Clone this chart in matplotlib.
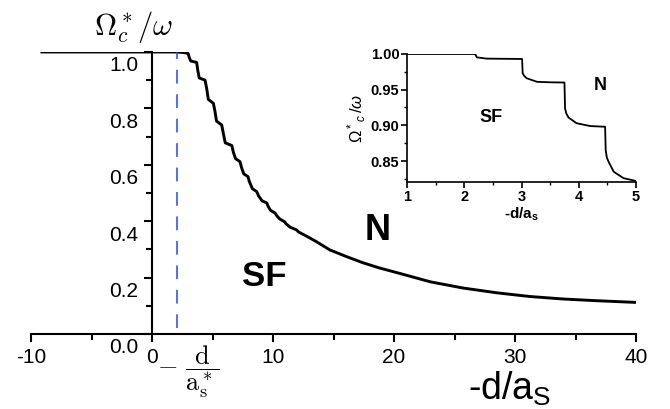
import matplotlib
matplotlib.use('Agg')
import matplotlib.pyplot as plt
from matplotlib.ticker import MultipleLocator, FixedLocator
from matplotlib.transforms import ScaledTranslation

plt.rcParams['font.family'] = ['Liberation Sans', 'DejaVu Sans']
plt.rcParams['axes.unicode_minus'] = False
plt.rcParams['mathtext.fontset'] = 'custom'
plt.rcParams['mathtext.rm'] = 'Liberation Sans'
plt.rcParams['mathtext.it'] = 'Liberation Sans:italic'
plt.rcParams['mathtext.bf'] = 'Liberation Sans:bold'

# main curve
main_x = [-9.1, 2.0, 2.6, 2.98, 3.08, 3.2, 3.69, 3.78, 3.9, 4.38, 4.52, 4.65, 5.07, 5.2,
          5.33, 5.76, 5.9, 6.05, 6.6, 6.72, 6.9, 7.27, 7.4, 7.58, 7.93, 8.05, 8.3, 8.65,
          8.8, 9.1, 9.48, 9.6, 9.8, 10.17, 10.3, 10.55, 10.95, 11.1, 11.4, 11.95, 12.1,
          12.5, 13.06, 13.6, 14.7, 16.1, 17.4, 18.8, 20.2, 23.0, 25.7, 28.5, 31.2, 34.0,
          36.75, 40.0]
main_y = [1.0, 1.0, 0.998, 0.995, 0.98, 0.968, 0.963, 0.935, 0.908, 0.900, 0.87, 0.832,
          0.818, 0.79, 0.755, 0.741, 0.71, 0.678, 0.668, 0.645, 0.622, 0.611, 0.59, 0.568,
          0.558, 0.54, 0.515, 0.505, 0.49, 0.472, 0.465, 0.452, 0.438, 0.429, 0.42, 0.408,
          0.398, 0.39, 0.379, 0.369, 0.362, 0.353, 0.340, 0.327, 0.298, 0.274, 0.253,
          0.234, 0.218, 0.185, 0.163, 0.146, 0.133, 0.124, 0.118, 0.112]
d_star = 2.07

# inset curve
ins_x = [1.0, 2.19, 2.22, 2.39, 3.01, 3.02, 3.05, 3.09, 3.27, 3.5, 3.75, 3.76, 3.78, 3.82,
         3.96, 4.2, 4.46, 4.47, 4.49, 4.52, 4.61, 4.78, 5.0]
ins_y = [1.0, 1.0, 0.9953, 0.9935, 0.993, 0.973, 0.969, 0.966, 0.961, 0.9603, 0.960, 0.924,
         0.917, 0.911, 0.903, 0.899, 0.898, 0.865, 0.855, 0.849, 0.835, 0.826, 0.822]

fig = plt.figure(figsize=(6.7, 4.09), dpi=100)
ax = fig.add_axes([0.0463, 0.1834, 0.903, 0.6895])
ax.plot(main_x, main_y, color='black', lw=2.1, solid_joinstyle='round')
ax.plot([d_star, d_star], [0.02, 1.0], color='#2244ff', lw=1.1, dashes=(9, 7))
ax.set_xlim(-10, 40)
ax.set_ylim(0, 1.0)
ax.spines['top'].set_visible(False)
ax.spines['right'].set_visible(False)
ax.spines['left'].set_position(('data', 0))
for s in ['left', 'bottom']:
    ax.spines[s].set_linewidth(1.5)
ax.xaxis.set_major_locator(MultipleLocator(10))
ax.xaxis.set_minor_locator(MultipleLocator(5))
ax.yaxis.set_major_locator(FixedLocator([0.0, 0.2, 0.4, 0.6, 0.8, 1.0]))
ax.yaxis.set_minor_locator(MultipleLocator(0.1))
ax.set_yticklabels(['0.0', '0.2', '0.4', '0.6', '0.8', '1.0'])
ax.tick_params(axis='both', which='major', direction='out', length=6, width=1.5,
               labelsize=15, pad=4)
ax.tick_params(axis='both', which='minor', direction='out', length=4, width=1.5)
off = ScaledTranslation(0, -0.12, fig.dpi_scale_trans)
for lab in ax.get_yticklabels():
    lab.set_transform(lab.get_transform() + off)

fig.text(0.2, 0.915, r'$\Omega^*_c/\omega$', fontsize=22, math_fontfamily='cm',
         ha='center', va='baseline')
fig.text(0.698, 0.022, '-d/a$_{\\rm S}$', fontsize=27, ha='left', va='baseline')
ax.annotate(r'$-\ \dfrac{\mathrm{d}}{\mathrm{a}_\mathrm{s}^*}$', xy=(3.0, 0), xycoords='data',
            xytext=(0, -27), textcoords='offset points', fontsize=19,
            math_fontfamily='cm', ha='center', va='center', annotation_clip=False)
fig.text(264 / 670, 1 - 276 / 409, 'SF', fontsize=25, fontweight='bold',
         ha='center', va='center')
fig.text(378 / 670, 1 - 231 / 409, 'N', fontsize=26, fontweight='bold',
         ha='center', va='center')

# inset
ax2 = fig.add_axes([0.6075, 0.554, 0.3418, 0.314])
ax2.plot(ins_x, ins_y, color='black', lw=1.3)
ax2.set_xlim(1, 5)
ax2.set_ylim(0.82, 1.0)
ax2.spines['top'].set_visible(False)
ax2.spines['right'].set_visible(False)
for s in ['left', 'bottom']:
    ax2.spines[s].set_linewidth(1.2)
ax2.xaxis.set_major_locator(MultipleLocator(1))
ax2.xaxis.set_minor_locator(MultipleLocator(0.5))
ax2.yaxis.set_minor_locator(MultipleLocator(0.025))
ax2.set_yticks([0.85, 0.90, 0.95, 1.00])
ax2.set_yticklabels(['0.85', '0.90', '0.95', '1.00'])
ax2.tick_params(axis='both', which='major', direction='out', length=4, width=1.2,
                labelsize=10.5, pad=1.5)
ax2.tick_params(axis='both', which='minor', direction='out', length=2.5, width=1.0)
for lab in ax2.get_xticklabels() + ax2.get_yticklabels():
    lab.set_fontweight('bold')
ax2.set_xlabel('-d/a$_\\mathbf{s}$', fontsize=11, fontweight='bold', labelpad=1)
ax2.set_ylabel(r'$\Omega^*{}_c\,/\omega$', fontsize=12, labelpad=2)
ax2.text(600 / 670, 1 - 85 / 409, 'N', transform=fig.transFigure, fontsize=13,
         fontweight='bold', ha='center', va='center')
ax2.text(491 / 670, 1 - 118 / 409, 'SF', transform=fig.transFigure, fontsize=13,
         fontweight='bold', ha='center', va='center')

fig.savefig('out.png', dpi=100)
